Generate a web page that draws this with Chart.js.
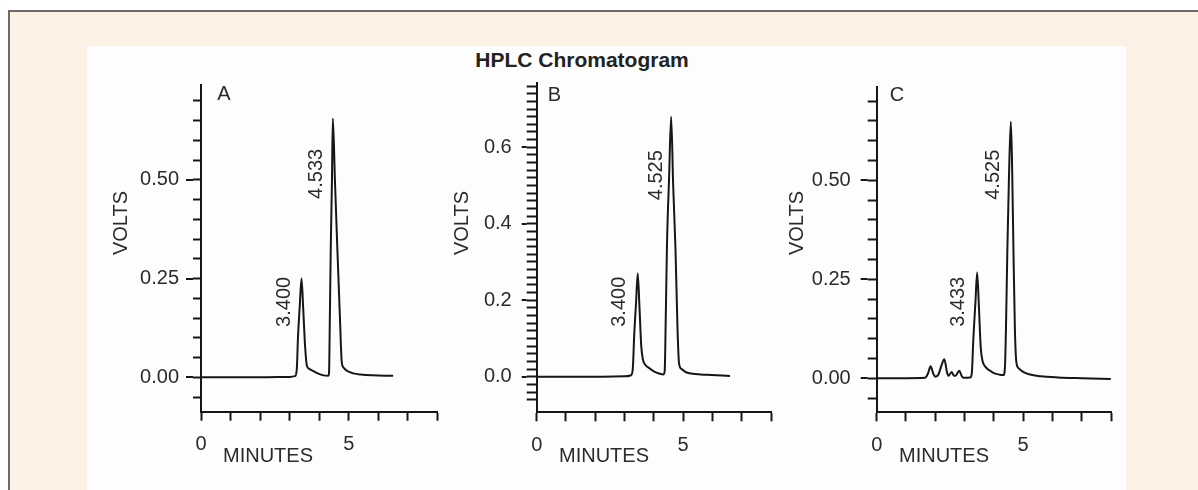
<!DOCTYPE html>
<html>
<head>
<meta charset="utf-8">
<script src="https://cdn.jsdelivr.net/npm/chart.js@4.4.1/dist/chart.umd.min.js"></script>
<style>
    html, body { margin: 0; padding: 0; background: #ffffff; }
    body { width: 1198px; height: 490px; position: relative; overflow: hidden; font-family: "Liberation Sans", Arial, sans-serif; }
    .frame { position: absolute; left: 8px; top: 10px; width: 1200px; height: 500px; background: #fdf1e6; border-top: 2px solid #6b6b6b; border-left: 2px solid #6b6b6b; }
    .sheet { position: absolute; left: 87px; top: 46px; width: 1039px; height: 460px; background: #fdfdfd; }
    .title { position: absolute; left: 400px; width: 364px; top: 48px; text-align: center; font-weight: bold; font-size: 21px; color: #222; }
    .panel { position: absolute; top: 50px; width: 360px; height: 420px; }
</style>
</head>
<body>
<div class="frame"></div>
<div class="sheet"></div>
<div class="title">HPLC Chromatogram</div>
<div class="panel" style="left:90px"><canvas id="chartA" width="360" height="420"></canvas></div>
<div class="panel" style="left:430px"><canvas id="chartB" width="360" height="420"></canvas></div>
<div class="panel" style="left:780px"><canvas id="chartC" width="360" height="420"></canvas></div>
<script>
// Chromatogram traces (time in minutes, signal in volts)
const timesA = [0, 1.0, 2.0, 3.0, 3.18, 3.24, 3.28, 3.34, 3.40, 3.46, 3.52, 3.58, 3.65, 3.80, 3.95, 4.15, 4.30, 4.33, 4.36, 4.39, 4.43, 4.46, 4.53, 4.61, 4.70, 4.76, 4.82, 4.95, 5.15, 5.40, 5.80, 6.50];
const voltsA = [0, 0, 0, 0.001, 0.003, 0.02, 0.10, 0.18, 0.25, 0.17, 0.08, 0.03, 0.022, 0.016, 0.010, 0.005, 0.004, 0.01, 0.16, 0.33, 0.50, 0.655, 0.50, 0.33, 0.15, 0.04, 0.025, 0.016, 0.010, 0.007, 0.005, 0.004];

const timesB = [0, 1.0, 2.0, 3.0, 3.22, 3.28, 3.33, 3.39, 3.45, 3.51, 3.57, 3.63, 3.70, 3.85, 4.00, 4.20, 4.33, 4.37, 4.41, 4.45, 4.52, 4.59, 4.66, 4.74, 4.81, 4.86, 4.95, 5.12, 5.40, 5.80, 6.60];
const voltsB = [0, 0, 0, 0.001, 0.004, 0.02, 0.11, 0.19, 0.27, 0.18, 0.08, 0.044, 0.032, 0.022, 0.014, 0.008, 0.006, 0.015, 0.17, 0.35, 0.52, 0.68, 0.50, 0.33, 0.12, 0.035, 0.020, 0.011, 0.007, 0.005, 0.002];

const timesC = [0, 1.0, 1.65, 1.75, 1.84, 1.93, 2.00, 2.10, 2.20, 2.31, 2.40, 2.45, 2.56, 2.64, 2.69, 2.82, 2.90, 2.96, 3.20, 3.25, 3.30, 3.37, 3.43, 3.49, 3.55, 3.61, 3.70, 3.85, 4.00, 4.20, 4.33, 4.38, 4.42, 4.46, 4.52, 4.58, 4.62, 4.67, 4.72, 4.77, 4.85, 5.00, 5.20, 5.60, 6.20, 7.00, 7.99];
const voltsC = [0, 0, 0.001, 0.012, 0.030, 0.012, 0.004, 0.008, 0.030, 0.048, 0.015, 0.006, 0.016, 0.006, 0.006, 0.019, 0.006, 0.001, 0.002, 0.015, 0.10, 0.19, 0.267, 0.18, 0.08, 0.045, 0.030, 0.020, 0.013, 0.009, 0.008, 0.03, 0.15, 0.32, 0.52, 0.648, 0.55, 0.32, 0.12, 0.04, 0.025, 0.016, 0.010, 0.005, 0.002, 0.0, -0.002];

// Axis ticks and labels
const xTicks = [0, 1, 2, 3, 4, 5, 6, 7, 8];
const xLabelValues = [0, 5];
const xLabelTexts = ['0', '5'];

const yTicksA = [-0.05, 0, 0.05, 0.10, 0.15, 0.20, 0.25, 0.30, 0.35, 0.40, 0.45, 0.50, 0.55, 0.60, 0.65, 0.70];
const yMajorA = [0, 0.25, 0.50];
const yMajorTextA = ['0.00', '0.25', '0.50'];

const yTicksB = [-0.06, -0.04, -0.02, 0, 0.02, 0.04, 0.06, 0.08, 0.10, 0.12, 0.14, 0.16, 0.18, 0.20, 0.22, 0.24, 0.26, 0.28, 0.30, 0.32, 0.34, 0.36, 0.38, 0.40, 0.42, 0.44, 0.46, 0.48, 0.50, 0.52, 0.54, 0.56, 0.58, 0.60, 0.62, 0.64, 0.66, 0.68, 0.70, 0.72, 0.74, 0.76];
const yMajorB = [0, 0.2, 0.4, 0.6];
const yMajorTextB = ['0.0', '0.2', '0.4', '0.6'];

const yTicksC = [-0.05, 0, 0.05, 0.10, 0.15, 0.20, 0.25, 0.30, 0.35, 0.40, 0.45, 0.50, 0.55, 0.60, 0.65, 0.70];
const yMajorC = [0, 0.25, 0.50];
const yMajorTextC = ['0.00', '0.25', '0.50'];

// Retention time annotations
const peakTextsA = ['4.533', '3.400'];
const peakTextsB = ['4.525', '3.400'];
const peakTextsC = ['4.525', '3.433'];

const INK = '#161616';
const TEXT = '#2b2b2b';
const FONT = '"Liberation Sans", Arial, sans-serif';

function same(a, b) { return Math.abs(a - b) < 1e-6; }

function labelFrom(values, texts, v) {
    const i = values.findIndex(m => same(m, v));
    return i >= 0 ? texts[i] : '';
}

// draws axis titles, panel letter, rotated peak labels and longer major ticks
const panelText = {
    id: 'panelText',
    afterDraw(chart, args, o) {
        const ctx = chart.ctx;
        const xs = chart.scales.x, ys = chart.scales.y;
        ctx.save();
        ctx.fillStyle = TEXT;
        ctx.font = '20px ' + FONT;
        ctx.textAlign = 'center';
        ctx.textBaseline = 'middle';

        // longer tick marks at labelled values
        ctx.strokeStyle = INK;
        ctx.lineWidth = 2;
        o.majors.forEach(v => {
            const py = Math.round(ys.getPixelForValue(v));
            ctx.beginPath();
            ctx.moveTo(chart.chartArea.left - o.minorLen, py);
            ctx.lineTo(chart.chartArea.left - o.majorLen, py);
            ctx.stroke();
        });

        ctx.fillText('MINUTES', o.minutes[0], o.minutes[1]);
        ctx.fillText(o.letter[0], o.letter[1], o.letter[2]);

        const rotated = (text, x, y) => {
            ctx.save();
            ctx.translate(x, y);
            ctx.rotate(-Math.PI / 2);
            ctx.fillText(text, 0, 0);
            ctx.restore();
        };
        rotated('VOLTS', o.volts[0], o.volts[1]);
        o.peaks.forEach(p => rotated(p.text, xs.getPixelForValue(p.t), ys.getPixelForValue(p.v)));
        ctx.restore();
    }
};

function makePanel(canvasId, times, volts, cfg) {
    const ctx = document.getElementById(canvasId);
    const points = times.map((t, i) => ({ x: t, y: volts[i] }));
    return new Chart(ctx, {
        type: 'line',
        data: {
            datasets: [{
                data: points,
                borderColor: INK,
                borderWidth: 2,
                pointRadius: 0,
                fill: false,
                cubicInterpolationMode: 'monotone'
            }]
        },
        options: {
            responsive: false,
            animation: false,
            layout: { padding: { top: cfg.padTop, right: cfg.padRight, left: 0, bottom: 0 } },
            plugins: {
                legend: { display: false },
                tooltip: { enabled: false },
                panelText: cfg.text
            },
            scales: {
                x: {
                    type: 'linear',
                    min: 0,
                    max: 8,
                    afterBuildTicks: s => { s.ticks = xTicks.map(v => ({ value: v })); },
                    afterFit: s => { s.height = cfg.xHeight; },
                    border: { display: true, color: INK, width: 2 },
                    grid: { drawOnChartArea: false, drawTicks: true, tickLength: 9, tickWidth: 2, tickColor: INK },
                    ticks: {
                        autoSkip: false, maxRotation: 0, padding: 12, color: TEXT,
                        font: { size: 20, family: FONT },
                        callback: v => labelFrom(xLabelValues, xLabelTexts, v)
                    }
                },
                y: {
                    type: 'linear',
                    min: cfg.yMin,
                    max: cfg.yMax,
                    afterBuildTicks: s => { s.ticks = cfg.yTicks.map(v => ({ value: v })); },
                    afterFit: s => { s.width = cfg.yWidth; },
                    border: { display: true, color: INK, width: 2 },
                    grid: { drawOnChartArea: false, drawTicks: true, tickLength: cfg.text.minorLen, tickWidth: 2, tickColor: INK },
                    ticks: {
                        autoSkip: false, padding: cfg.yPad, color: TEXT,
                        font: { size: 20, family: FONT },
                        callback: v => labelFrom(cfg.yMajor, cfg.yMajorText, v)
                    }
                }
            }
        },
        plugins: [panelText]
    });
}

makePanel('chartA', timesA, voltsA, {
    padTop: 35, padRight: 12.5, xHeight: 58.3, yWidth: 111, yPad: 14,
    yMin: -0.087, yMax: 0.74, yTicks: yTicksA, yMajor: yMajorA, yMajorText: yMajorTextA,
    text: {
        majors: yMajorA, minorLen: 8, majorLen: 15,
        volts: [31.5, 173], minutes: [178, 406], letter: ['A', 134, 44.5],
        peaks: [{ text: peakTextsA[0], t: 3.89, v: 0.515 }, { text: peakTextsA[1], t: 2.84, v: 0.191 }]
    }
});

makePanel('chartB', timesB, voltsB, {
    padTop: 33, padRight: 19, xHeight: 57.7, yWidth: 106.7, yPad: 15,
    yMin: -0.093, yMax: 0.768, yTicks: yTicksB, yMajor: yMajorB, yMajorText: yMajorTextB,
    text: {
        majors: yMajorB, minorLen: 10, majorLen: 15,
        volts: [32.5, 173], minutes: [174, 406], letter: ['B', 124.5, 45],
        peaks: [{ text: peakTextsB[0], t: 4.10, v: 0.527 }, { text: peakTextsB[1], t: 2.84, v: 0.196 }]
    }
});

makePanel('chartC', timesC, voltsC, {
    padTop: 37, padRight: 29, xHeight: 57.7, yWidth: 96.7, yPad: 17,
    yMin: -0.086, yMax: 0.7356, yTicks: yTicksC, yMajor: yMajorC, yMajorText: yMajorTextC,
    text: {
        majors: yMajorC, minorLen: 9, majorLen: 16,
        volts: [17, 173], minutes: [164, 406], letter: ['C', 117, 45],
        peaks: [{ text: peakTextsC[0], t: 3.98, v: 0.514 }, { text: peakTextsC[1], t: 2.79, v: 0.193 }]
    }
});
</script>
</body>
</html>
